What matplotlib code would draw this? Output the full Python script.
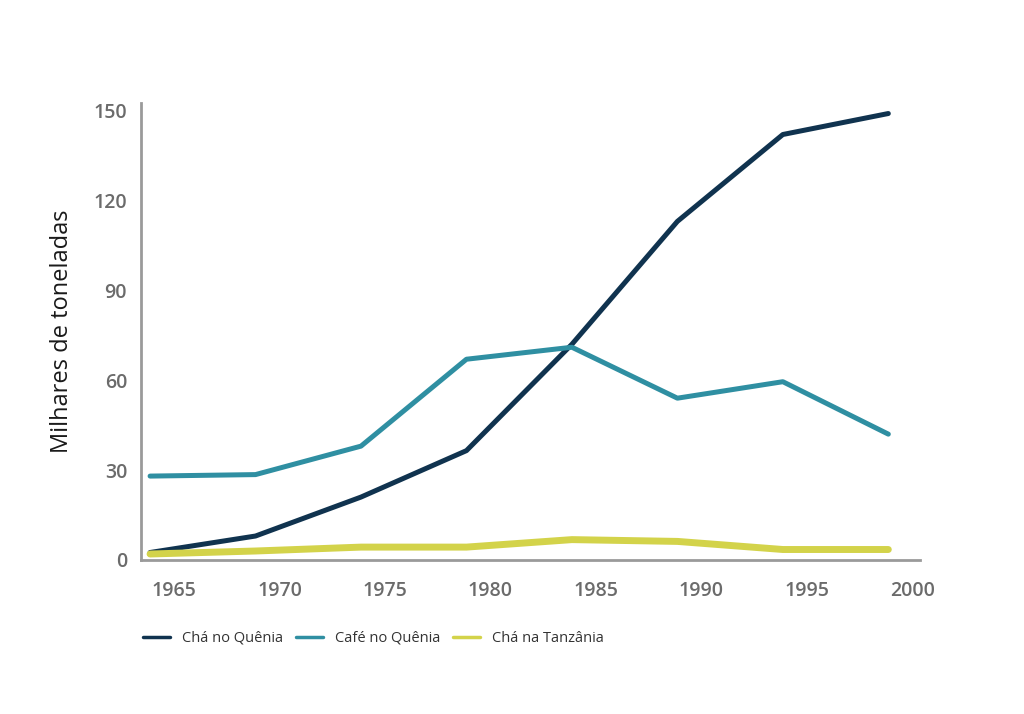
import matplotlib
matplotlib.use('Agg')
import matplotlib.pyplot as plt
import matplotlib.transforms as mtransforms

# data
anos = [1965, 1970, 1975, 1980, 1985, 1990, 1995, 2000]
cha_quenia = [1.5, 7, 20, 35.5, 71, 112, 141, 148]
cafe_quenia = [27, 27.5, 37, 66, 70, 53, 58.5, 41]
cha_tanzania = [1, 2, 3.3, 3.3, 5.8, 5.2, 2.5, 2.5]
yticks = [0, 30, 60, 90, 120, 150]

plt.rcParams['font.family'] = ['Open Sans', 'DejaVu Sans']

fig = plt.figure(figsize=(10.24, 7.14), dpi=100)
ax = fig.add_axes([0.1377, 0.2157, 0.7607, 0.64])

ax.plot(anos, cha_quenia, color='#10334f', lw=3.6, label='Chá no Quênia', solid_capstyle='round')
ax.plot(anos, cafe_quenia, color='#2f8fa2', lw=3.6, label='Café no Quênia', solid_capstyle='round')
ax.plot(anos, cha_tanzania, color='#d3d34a', lw=5, label='Chá na Tanzânia', solid_capstyle='round')

ax.set_xlim(1964.57, 2001.5)
ax.set_ylim(-1, 151.5)
ax.set_xticks(anos)
ax.set_yticks(yticks)

for s in ['top', 'right']:
    ax.spines[s].set_visible(False)
for s in ['left', 'bottom']:
    ax.spines[s].set_color('#9a9a9a')
    ax.spines[s].set_linewidth(2)

ax.tick_params(axis='both', length=0, labelsize=14, labelcolor='#6b6b6b')
ax.tick_params(axis='x', pad=15)
ax.tick_params(axis='y', pad=10)
for lbl in ax.get_xticklabels() + ax.get_yticklabels():
    lbl.set_fontweight('semibold')

# year labels sit a bit right of the points in the original
offset = mtransforms.ScaledTranslation(0.24, 0, fig.dpi_scale_trans)
for lbl in ax.get_xticklabels():
    lbl.set_transform(lbl.get_transform() + offset)
down = mtransforms.ScaledTranslation(0, -0.03, fig.dpi_scale_trans)
for lbl in ax.get_yticklabels():
    lbl.set_transform(lbl.get_transform() + down)

ax.set_ylabel('Milhares de toneladas', fontsize=17, color='#1a1a1a', labelpad=14)

leg = fig.legend(loc='upper left', bbox_to_anchor=(0.127, 0.135), ncol=3, frameon=False,
                 fontsize=10.5, handlelength=1.85, columnspacing=0.9, handletextpad=0.8)
for t in leg.get_texts():
    t.set_color('#333333')
for h in leg.get_lines():
    h.set_linewidth(2.5)

fig.savefig('out.png', dpi=100, facecolor='white')
